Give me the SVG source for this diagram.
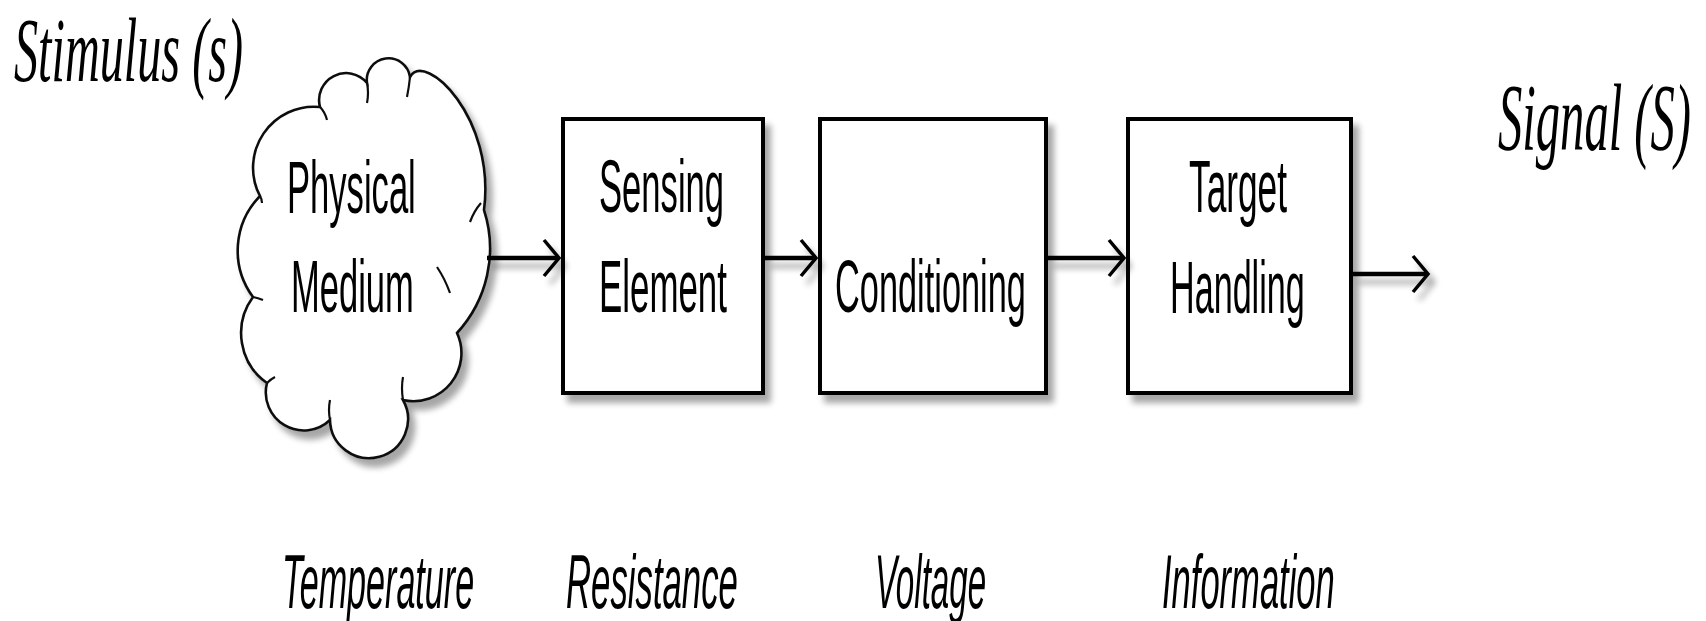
<svg xmlns="http://www.w3.org/2000/svg" width="1706" height="621" viewBox="0 0 1706 621">
<defs>
<style>
.box{fill:#fff;stroke:#000;stroke-width:4}
.cloud{fill:#fff;stroke:#111;stroke-width:2.6}
.inner{fill:none;stroke:#111;stroke-width:2.2}
.lbl{font-family:"Liberation Sans",Arial,sans-serif;font-size:75px;fill:#000}
.qty{font-family:"Liberation Sans",Arial,sans-serif;font-size:76px;font-style:italic;fill:#000}
.io{font-family:"Liberation Serif","Times New Roman",serif;font-size:96px;font-style:italic;fill:#000}
.conn{fill:none;stroke:#000;stroke-width:4.5}
</style>
<filter id="sh" filterUnits="userSpaceOnUse" x="0" y="0" width="1706" height="621">
<feGaussianBlur in="SourceAlpha" stdDeviation="3"/>
<feOffset dx="6" dy="8"/>
<feComponentTransfer><feFuncA type="linear" slope="0.35"/></feComponentTransfer>
<feMerge><feMergeNode/><feMergeNode in="SourceGraphic"/></feMerge>
</filter>
<marker id="arr" markerUnits="userSpaceOnUse" markerWidth="24" markerHeight="44" viewBox="-20 -22 24 44" refX="0" refY="0" orient="auto" overflow="visible">
<polyline points="-15,-18 0,0 -15,18" fill="none" stroke="#000" stroke-width="3.5"/>
</marker>
</defs>
<rect width="1706" height="621" fill="#fff"/>

<g id="stimulus"><text class="io" style="font-size:91px" transform="translate(14,81) scale(0.5,1)" textLength="458" lengthAdjust="spacingAndGlyphs">Stimulus (s)</text></g>
<g id="signal"><text class="io" transform="translate(1498,150) scale(0.5,1)" textLength="386" lengthAdjust="spacingAndGlyphs">Signal (S)</text></g>

<g id="physical-medium" filter="url(#sh)">
<path class="cloud" d="M260,196 A61,61 0 0 1 320,107 A27,27 0 0 1 367,83 A21,21 0 0 1 410,77 C425,50 496,118 484,210 A125,125 0 0 1 457,333 A48,48 0 0 1 403,400 A39,39 0 1 1 330,420 A38,38 0 0 1 267,383 A61,61 0 0 1 253,297 A78,78 0 0 1 260,196 Z"/>
<path class="inner" d="M320,107 q5,5 7,13 M367,83 q2,10 0,20 M410,77 q-1,10 -3,20 M481,203 q-7,8 -11,19 M437,267 q8,12 13,26 M403,400 q-2,-12 0,-23 M330,420 q-2,-10 0,-20 M267,383 q4,-4 8,-6 M253,297 q5,1 10,3 M260,196 q2,3 2,7"/>
</g>
<g id="physical-medium-label">
<text class="lbl" transform="translate(287,213) scale(0.46,1)" textLength="280" lengthAdjust="spacingAndGlyphs">Physical</text>
<text class="lbl" transform="translate(291,312) scale(0.46,1)" textLength="267" lengthAdjust="spacingAndGlyphs">Medium</text>
</g>

<g id="sensing-element">
<rect class="box" x="563" y="119" width="200" height="274" filter="url(#sh)"/>
<text class="lbl" transform="translate(599,212) scale(0.46,1)" textLength="272" lengthAdjust="spacingAndGlyphs">Sensing</text>
<text class="lbl" transform="translate(599,312) scale(0.46,1)" textLength="278" lengthAdjust="spacingAndGlyphs">Element</text>
</g>

<g id="conditioning">
<rect class="box" x="820" y="119" width="226" height="274" filter="url(#sh)"/>
<text class="lbl" transform="translate(835,312) scale(0.46,1)" textLength="415" lengthAdjust="spacingAndGlyphs">Conditioning</text>
</g>

<g id="target-handling">
<rect class="box" x="1128" y="119" width="223" height="274" filter="url(#sh)"/>
<text class="lbl" transform="translate(1189,212) scale(0.46,1)" textLength="213" lengthAdjust="spacingAndGlyphs">Target</text>
<text class="lbl" transform="translate(1170,313) scale(0.46,1)" textLength="293" lengthAdjust="spacingAndGlyphs">Handling</text>
</g>

<g id="connectors" filter="url(#sh)">
<line class="conn" x1="487" y1="258" x2="559" y2="258" marker-end="url(#arr)"/>
<line class="conn" x1="765" y1="258" x2="816" y2="258" marker-end="url(#arr)"/>
<line class="conn" x1="1048" y1="258" x2="1124" y2="258" marker-end="url(#arr)"/>
<line class="conn" x1="1353" y1="274" x2="1428" y2="274" marker-end="url(#arr)"/>
</g>

<g id="quantities">
<text class="qty" transform="translate(282,608) scale(0.45,1)" textLength="427" lengthAdjust="spacingAndGlyphs">Temperature</text>
<text class="qty" transform="translate(566,608) scale(0.45,1)" textLength="382" lengthAdjust="spacingAndGlyphs">Resistance</text>
<text class="qty" transform="translate(875,608) scale(0.45,1)" textLength="247" lengthAdjust="spacingAndGlyphs">Voltage</text>
<text class="qty" transform="translate(1162,608) scale(0.45,1)" textLength="384" lengthAdjust="spacingAndGlyphs">Information</text>
</g>
</svg>
